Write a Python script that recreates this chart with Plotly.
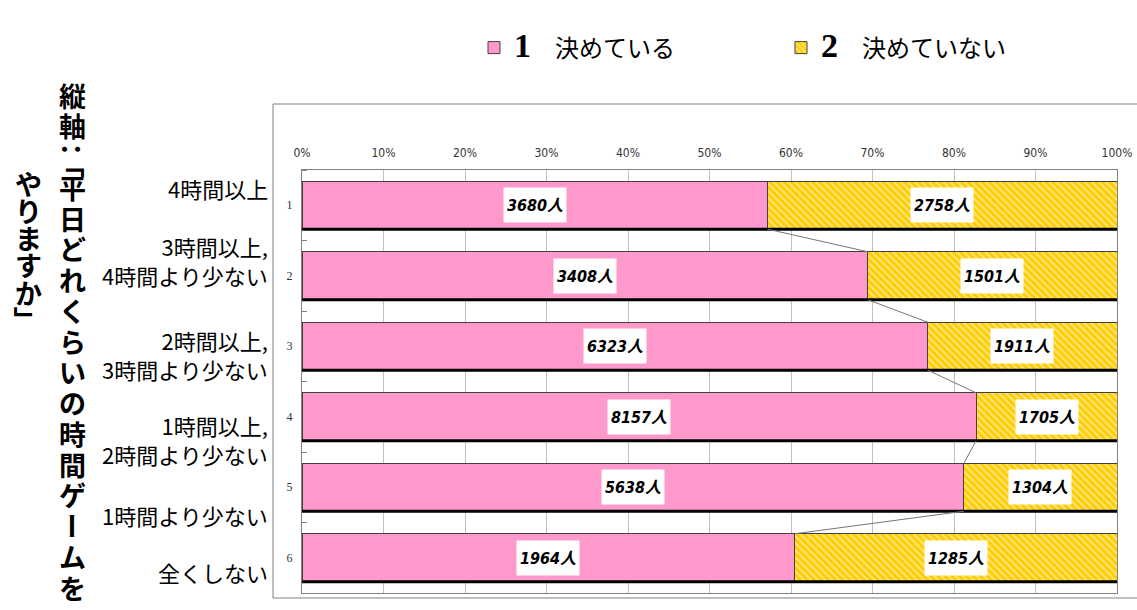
import numpy as np
import plotly.graph_objects as go

# ---------------- data ----------------
categories = [
    "4時間以上",
    "3時間以上,<br>4時間より少ない",
    "2時間以上,<br>3時間より少ない",
    "1時間以上,<br>2時間より少ない",
    "1時間より少ない",
    "全くしない",
]
row_numbers = ["1", "2", "3", "4", "5", "6"]
series_names = ["決めている", "決めていない"]
decided = [3680, 3408, 6323, 8157, 5638, 1964]
undecided = [2758, 1501, 1911, 1705, 1304, 1285]
x_tick_vals = [0, 0.1, 0.2, 0.3, 0.4, 0.5, 0.6, 0.7, 0.8, 0.9, 1.0]
x_tick_text = ["0%", "10%", "20%", "30%", "40%", "50%", "60%", "70%", "80%", "90%", "100%"]
title_col1 = "縦軸：「平日どれくらいの時間ゲームを"
title_col2 = "やりますか」"

# ---------------- layout constants ----------------
W, H = 1137, 610
L, R, T, B = 302, 20, 170, 17
PW, PH = W - L - R, H - T - B
BAR_W = 0.68
PINK = "#FF99CC"
GOLD = "#FFCC00"
label_yshift = [17, 15, -8, -23, -28, -14]


def px_x(px):
    return (px - L) / PW


def px_y(py):
    return (H - B - py) / PH


y_pos = np.arange(1, len(categories) + 1)
dec = np.array(decided, float)
und = np.array(undecided, float)
frac = dec / (dec + und)

fig = go.Figure()

fig.add_trace(go.Bar(
    y=y_pos, x=decided, orientation="h", width=BAR_W,
    name='<span style="font-family:Liberation Serif;font-size:34px"><b>1</b></span>\u3000' + series_names[0],
    marker=dict(color=PINK, line=dict(color="#404040", width=1)),
    hoverinfo="skip",
))
fig.add_trace(go.Bar(
    y=y_pos, x=undecided, orientation="h", width=BAR_W,
    name='<span style="font-family:Liberation Serif;font-size:34px"><b>2</b></span>\u3000' + series_names[1],
    marker=dict(color=GOLD, line=dict(color="#404040", width=1),
                pattern=dict(shape="\\", fillmode="overlay", bgcolor=GOLD,
                             fgcolor="#FFFFFF", size=5, solidity=0.4)),
    hoverinfo="skip",
))

# thick black bottom edge of every bar
bx, by = [], []
for y in y_pos:
    bx += [0, 1, None]
    by += [y + BAR_W / 2, y + BAR_W / 2, None]
fig.add_trace(go.Scatter(x=bx, y=by, mode="lines", line=dict(color="black", width=3),
                         showlegend=False, hoverinfo="skip"))

# series (connector) lines
cx, cy = [], []
for k in range(len(y_pos) - 1):
    cx += [frac[k], frac[k + 1], None]
    cy += [y_pos[k] + BAR_W / 2, y_pos[k + 1] - BAR_W / 2, None]
fig.add_trace(go.Scatter(x=cx, y=cy, mode="lines", line=dict(color="#777777", width=1),
                         showlegend=False, hoverinfo="skip"))

annotations = []
lab_font = dict(family="Liberation Sans Narrow, DejaVu Sans Condensed, Noto Sans CJK JP", size=16, color="black")
for k, y in enumerate(y_pos):
    annotations.append(dict(x=frac[k] / 2, y=y, xref="x", yref="y",
                            text=f"<b><i>{decided[k]}人</i></b>", showarrow=False,
                            font=lab_font, bgcolor="white", borderpad=3, height=28))
    annotations.append(dict(x=frac[k] + (1 - frac[k]) / 2, y=y, xref="x", yref="y",
                            text=f"<b><i>{undecided[k]}人</i></b>", showarrow=False,
                            font=lab_font, bgcolor="white", borderpad=3, height=28))
    annotations.append(dict(x=px_x(270), y=y, xref="paper", yref="y", xanchor="right",
                            yanchor="middle", align="right", yshift=label_yshift[k],
                            text=categories[k], showarrow=False,
                            font=dict(family="Noto Sans CJK JP", size=22, color="black")))

# vertical (tategaki) axis title: punctuation rotated by 90 degrees
rotated = {"：", "「", "」", "ー"}
small = {"：", "「"}


def stack(chars, start, step):
    ys, yy, prev = [], start, None
    for ch in chars:
        if prev is not None:
            yy += step * ((0.5 if prev in small else 1) + (0.5 if ch in small else 1)) / 2
        ys.append(yy)
        prev = ch
    return ys


tfont = dict(family="Noto Sans CJK JP", size=27, color="black")
for col, xpx, start, step in [(title_col1, 72, 95, 30.75), (title_col2, 28, 183, 27.3)]:
    for ch, ypx in zip(col, stack(col, start, step)):
        annotations.append(dict(x=px_x(xpx), y=px_y(ypx), xref="paper", yref="paper",
                                xanchor="center", yanchor="middle", text=f"<b>{ch}</b>",
                                textangle=90 if ch in rotated else 0,
                                showarrow=False, font=tfont))

fig.update_layout(
    width=W, height=H,
    margin=dict(l=L, r=R, t=T, b=B, pad=0, autoexpand=False),
    paper_bgcolor="white", plot_bgcolor="white",
    barmode="stack", barnorm="fraction",
    showlegend=True,
    legend=dict(orientation="h", x=px_x(474), y=px_y(48), xanchor="left", yanchor="middle",
                font=dict(family="Noto Sans CJK JP", size=24, color="black"),
                entrywidth=262, entrywidthmode="pixels", traceorder="normal",
                bgcolor="rgba(0,0,0,0)"),
    annotations=annotations,
    shapes=[dict(type="rect", xref="paper", yref="paper",
                 x0=px_x(273), x1=px_x(1145), y0=px_y(598), y1=px_y(104),
                 line=dict(color="#808080", width=1), fillcolor="rgba(0,0,0,0)", layer="below")],
)
fig.update_xaxes(
    range=[0, 1], side="top", tickvals=x_tick_vals, ticktext=x_tick_text,
    showgrid=True, gridcolor="#C0C0C0", gridwidth=1, zeroline=False,
    showline=True, linecolor="#808080", mirror=True, ticks="",
    ticklabelstandoff=7, automargin=False,
    tickfont=dict(family="Liberation Sans Narrow, DejaVu Sans Condensed", size=12, color="#333333"),
)
fig.update_yaxes(
    range=[len(categories) + 0.5, 0.5], tickvals=list(y_pos), ticktext=row_numbers,
    showgrid=False, zeroline=False, showline=True, linecolor="#808080", mirror=True,
    ticks="", ticklabelstandoff=6, automargin=False,
    minor=dict(tick0=0.5, dtick=1, ticks="inside", ticklen=5, tickcolor="#808080", showgrid=False),
    tickfont=dict(family="Liberation Serif", size=12, color="#333333"),
)

fig.write_html("out.html", config={"displayModeBar": False},
               post_script="document.body.style.margin='0px';document.body.style.overflow='hidden';")
